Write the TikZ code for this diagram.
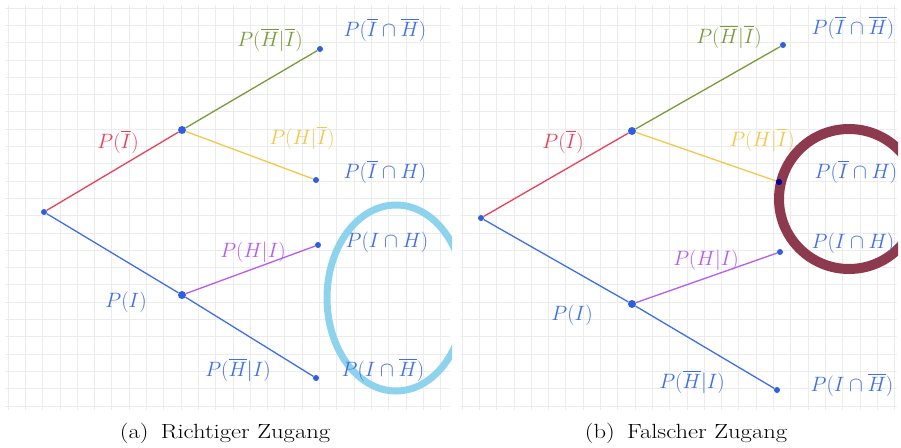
\documentclass[tikz,border=0pt]{standalone}
\usepackage{amsmath}
\definecolor{penblue}{HTML}{3D6FE8}
\definecolor{dotblue}{HTML}{2F5FE0}
\definecolor{penred}{HTML}{E8405A}
\definecolor{pengreen}{HTML}{7A9A3A}
\definecolor{penyellow}{HTML}{F2C84A}
\definecolor{penpurple}{HTML}{B65CF0}
\definecolor{cyanmark}{HTML}{8ED3EE}
\definecolor{ringred}{HTML}{8E3A4E}
\definecolor{gridc}{HTML}{ECECEC}
\begin{document}
\begin{tikzpicture}[x=1pt,y=-1pt,
  dot/.style={circle,fill=dotblue,inner sep=0pt,minimum size=6pt},
  bigdot/.style={circle,fill=dotblue,inner sep=0pt,minimum size=8pt},
  branch/.style={line width=1.3pt},
  lbl/.style={font=\fontsize{20}{23}\selectfont, inner sep=0pt},
  captext/.style={font=\fontsize{20.5}{24}\selectfont, inner sep=0pt}]
\useasboundingbox (0,0) rectangle (901,447);
\fill[white] (0,0) rectangle (901,447);
% grid paper
\foreach \x in {8,25.3,...,450} \draw[gridc, line width=0.7pt] (\x,5) -- (\x,410);
\foreach \y in {8,25.3,...,410} \draw[gridc, line width=0.7pt] (5,\y) -- (450,\y);
\foreach \x in {462,479.3,...,898} \draw[gridc, line width=0.7pt] (\x,5) -- (\x,410);
\foreach \y in {8,25.3,...,410} \draw[gridc, line width=0.7pt] (460,\y) -- (897,\y);

% ===== (a) =====
\begin{scope}
\clip (0,0) rectangle (452,412);
\draw[cyanmark, line width=7pt] (396,298) ellipse [x radius=69, y radius=93];
\end{scope}
\node[dot] (a0) at (44,212) {};
\node[bigdot] (a1) at (182,130) {};
\node[bigdot] (a2) at (182,295) {};
\node[dot] (a11) at (320,49) {};
\node[dot] (a12) at (316,180) {};
\node[dot] (a21) at (318,245) {};
\node[dot] (a22) at (316,378) {};
\draw[branch, penred] (a0) -- (a1);
\draw[branch, penblue] (a0) -- (a2);
\draw[branch, pengreen] (a1) -- (a11);
\draw[branch, penyellow] (a1) -- (a12);
\draw[branch, penpurple] (a2) -- (a21);
\draw[branch, penblue] (a2) -- (a22);
\node[lbl, text=penred] (la1) at (118,142) {$P(\overline{I})$};
\node[lbl, text=pengreen] (la11) at (270,40) {$P(\overline{H}|\overline{I})$};
\node[lbl, text=penblue] (ra11) at (385,30) {$P(\overline{I}\cap\overline{H})$};
\node[lbl, text=penyellow] (la12) at (302,138) {$P(H|\overline{I})$};
\node[lbl, text=penblue] (ra12) at (385,172) {$P(\overline{I}\cap H)$};
\node[lbl, text=penpurple] (la21) at (253,252) {$P(H|I)$};
\node[lbl, text=penblue] (ra21) at (387,242) {$P(I\cap H)$};
\node[lbl, text=penblue] (la2) at (126,302) {$P(I)$};
\node[lbl, text=penblue] (la22) at (238,370) {$P(\overline{H}|I)$};
\node[lbl, text=penblue] (ra22) at (383,370) {$P(I\cap\overline{H})$};

% ===== (b) =====
\begin{scope}
\clip (455,0) rectangle (898,412);
\draw[ringred, line width=10pt] (849,199) ellipse [x radius=70, y radius=70];
\end{scope}
\node[dot] (b0) at (481,218) {};
\node[bigdot] (b1) at (632,131) {};
\node[bigdot] (b2) at (632,304) {};
\node[dot] (b11) at (783,45) {};
\node[dot, fill=blue!60!black] (b12) at (779,182) {};
\node[dot] (b21) at (780,252) {};
\node[dot] (b22) at (777,390) {};
\draw[branch, penred] (b0) -- (b1);
\draw[branch, penblue] (b0) -- (b2);
\draw[branch, pengreen] (b1) -- (b11);
\draw[branch, penyellow] (b1) -- (b12);
\draw[branch, penpurple] (b2) -- (b21);
\draw[branch, penblue] (b2) -- (b22);
\node[dot, fill=blue!60!black] at (b12) {};
\node[lbl, text=penred] (lb1) at (563,142) {$P(\overline{I})$};
\node[lbl, text=pengreen] (lb11) at (729,37) {$P(\overline{H}|\overline{I})$};
\node[lbl, text=penblue] (rb11) at (853,28) {$P(\overline{I}\cap\overline{H})$};
\node[lbl, text=penyellow] (lb12) at (762,140) {$P(H|\overline{I})$};
\node[lbl, text=penblue] (rb12) at (856,172) {$P(\overline{I}\cap H)$};
\node[lbl, text=penpurple] (lb21) at (706,260) {$P(H|I)$};
\node[lbl, text=penblue] (rb21) at (853,243) {$P(I\cap H)$};
\node[lbl, text=penblue] (lb2) at (572,315) {$P(I)$};
\node[lbl, text=penblue] (lb22) at (692,382) {$P(\overline{H}|I)$};
\node[lbl, text=penblue] (rb22) at (852,385) {$P(I\cap\overline{H})$};

% captions
\node[captext] (capa) at (225,433) {\scalebox{1.2}[1]{(a)\enspace Richtiger Zugang}};
\node[captext] (capb) at (686,433) {\scalebox{1.2}[1]{(b)\enspace Falscher Zugang}};
\end{tikzpicture}
\end{document}
